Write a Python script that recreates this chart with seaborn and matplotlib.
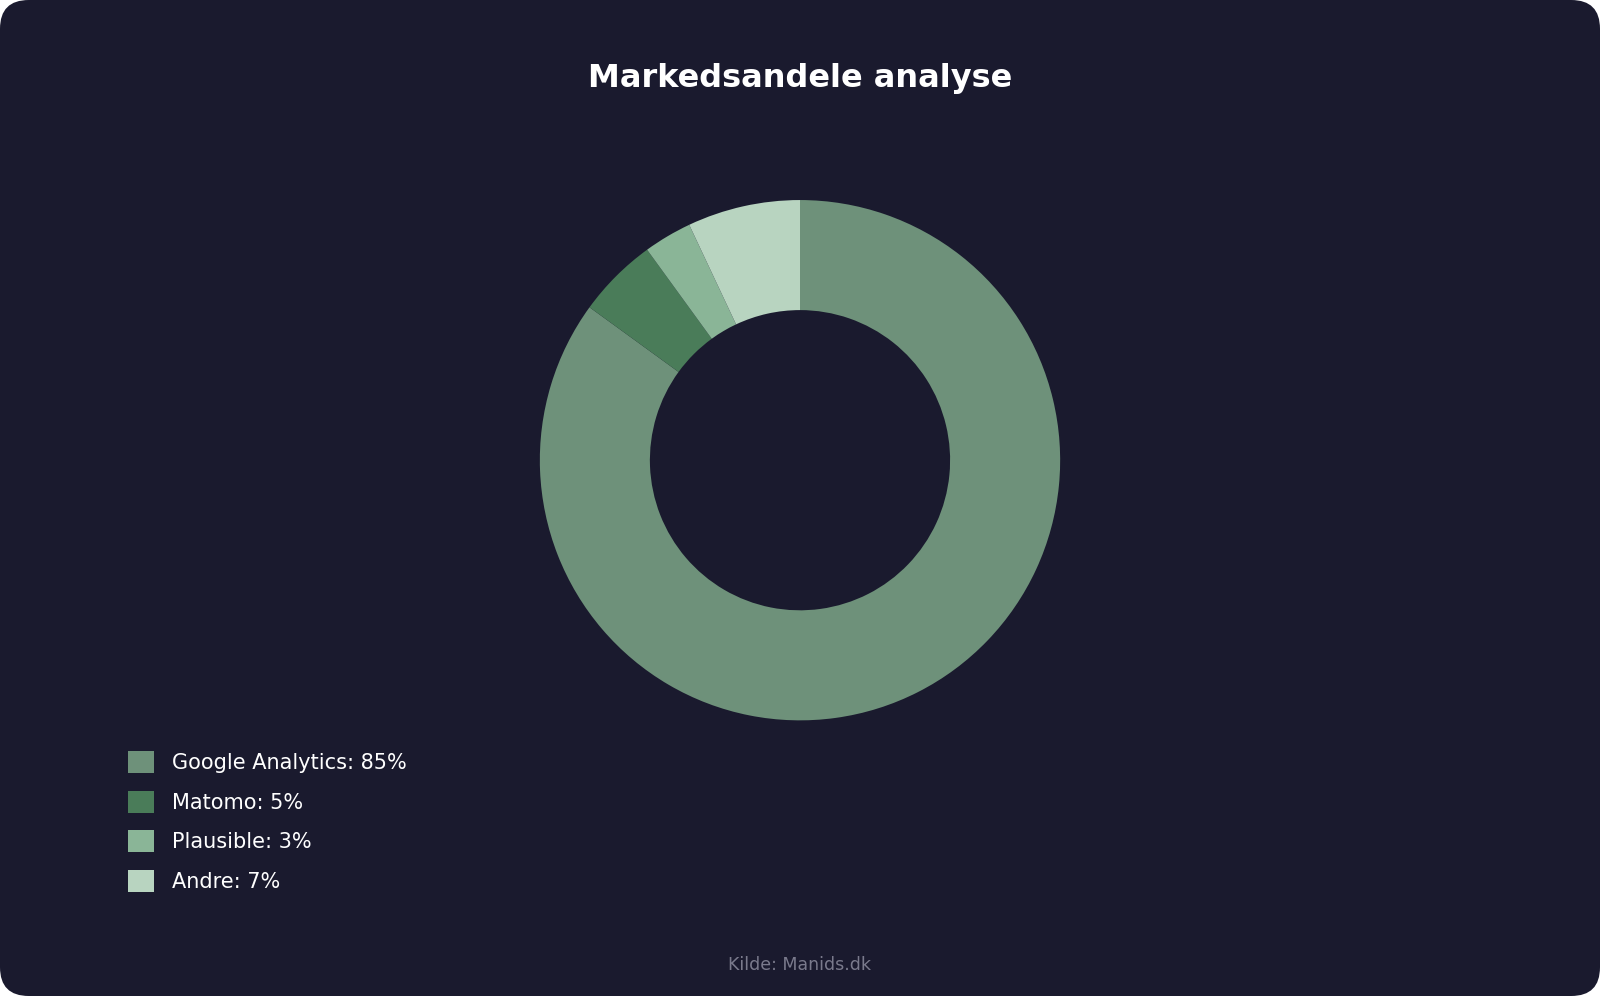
import matplotlib
matplotlib.use("Agg")
import matplotlib.pyplot as plt
from matplotlib.patches import FancyBboxPatch
import seaborn as sns

sns.set_theme(style="dark")
plt.rcParams['font.family'] = ['DejaVu Sans']

labels = ["Google Analytics", "Matomo", "Plausible", "Andre"]
shares = [85, 5, 3, 7]
colors = ["#6e917a", "#4a7c59", "#8ab597", "#b8d4c0"]
bg = "#1a1a2e"

fig = plt.figure(figsize=(16, 9.96), dpi=100)
fig.patch.set_facecolor("white")
fig.patches.append(FancyBboxPatch((0, 0), 1, 1, boxstyle="round,pad=0,rounding_size=0.018",
                                  transform=fig.transFigure, facecolor=bg, edgecolor="none",
                                  mutation_aspect=1600 / 996, zorder=-10))

ax = fig.add_axes([0.5 - 0.1626, 0.538 - 0.2613, 0.3252, 0.5225])
ax.set_facecolor("none")
wedges, _ = ax.pie(shares, colors=colors, startangle=90, counterclock=False,
                   radius=1, wedgeprops=dict(width=0.423, edgecolor="none"))
ax.set_xlim(-1, 1)
ax.set_ylim(-1, 1)
ax.set_aspect("equal")
ax.axis("off")

fig.text(0.5, 0.921, "Markedsandele analyse", ha="center", va="center",
         color="white", fontsize=23, fontweight="bold")

leg = fig.legend(wedges, [f"{l}: {v}%" for l, v in zip(labels, shares)],
                 loc="upper left", bbox_to_anchor=(0.068, 0.265), frameon=False,
                 fontsize=15, labelcolor="white", handlelength=1.25, handleheight=1.25,
                 labelspacing=0.85, handletextpad=0.9)

fig.text(0.5, 0.031, "Kilde: Manids.dk", ha="center", va="center",
         color="#7a7a8c", fontsize=12.5)

fig.savefig("out.png", dpi=100, facecolor=fig.get_facecolor())
